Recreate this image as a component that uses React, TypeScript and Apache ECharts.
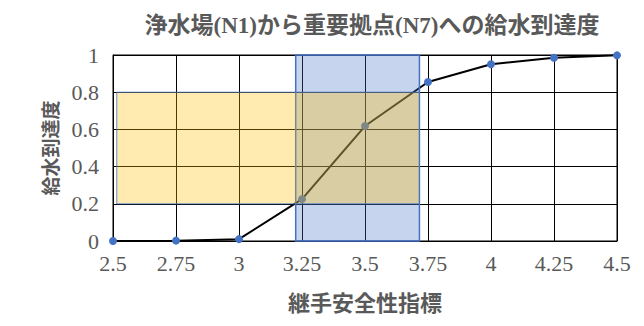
import React, { useEffect, useRef } from "react";
import * as echarts from "echarts";

const titleText = "浄水場(N1)から重要拠点(N7)への給水到達度";
const xName = "継手安全性指標";
const yName = "給水到達度";
const xValues = [2.5, 2.75, 3, 3.25, 3.5, 3.75, 4, 4.25, 4.5];
const reach = [0, 0.002, 0.01, 0.225, 0.618, 0.855, 0.95, 0.985, 0.998];
// rectangles: [xStart, xEnd, yStart, yEnd]
const blueBox = [3.225, 3.716, 0, 1];
const yellowBox = [2.515, 3.716, 0.2, 0.8];

const serif = "'Liberation Serif', 'Noto Sans CJK JP', serif";

function rectSeries(box: number[], fill: string, stroke: string, lw: number, z: number) {
  return {
    type: "custom",
    z,
    silent: true,
    data: [box],
    encode: { x: [0, 1], y: [2, 3] },
    renderItem: (params: any, api: any) => {
      const p0 = api.coord([api.value(0), api.value(3)]);
      const p1 = api.coord([api.value(1), api.value(2)]);
      return {
        type: "rect",
        shape: { x: p0[0], y: p0[1], width: p1[0] - p0[0], height: p1[1] - p0[1] },
        style: { fill, stroke, lineWidth: lw },
      };
    },
  };
}

export default function App() {
  const ref = useRef<HTMLDivElement>(null);
  useEffect(() => {
    document.body.style.margin = "0";
    const chart = echarts.init(ref.current!, undefined, { renderer: "svg" });
    chart.setOption({
      animation: false,
      backgroundColor: "#fff",
      title: {
        text: titleText,
        left: 367,
        textAlign: "center",
        top: 9,
        textStyle: { fontFamily: serif, fontSize: 23, fontWeight: "bold", color: "#595959" },
      },
      grid: { left: 113, right: 27, top: 55, bottom: 85, show: true, borderColor: "#000", borderWidth: 1 },
      xAxis: {
        type: "value",
        min: 2.5,
        max: 4.5,
        interval: 0.25,
        name: xName,
        nameLocation: "middle",
        nameGap: 51,
        nameTextStyle: { fontFamily: serif, fontSize: 22, fontWeight: "bold", color: "#595959" },
        axisLine: { show: true, lineStyle: { color: "#000", width: 1 } },
        axisTick: { show: false },
        axisLabel: { fontFamily: serif, fontSize: 22, color: "#595959", margin: 11 },
        splitLine: { show: true, lineStyle: { color: "#000", width: 1 } },
      },
      yAxis: {
        type: "value",
        min: 0,
        max: 1,
        interval: 0.2,
        name: yName,
        nameLocation: "middle",
        nameGap: 51,
        nameTextStyle: { fontFamily: serif, fontSize: 19, fontWeight: "bold", color: "#595959" },
        axisLine: { show: true, lineStyle: { color: "#000", width: 1 } },
        axisTick: { show: false },
        axisLabel: { fontFamily: serif, fontSize: 22, color: "#595959", margin: 14 },
        splitLine: { show: true, lineStyle: { color: "#000", width: 1 } },
      },
      series: [
        {
          type: "line",
          z: 2,
          data: xValues.map((x, i) => [x, reach[i]]),
          symbol: "circle",
          symbolSize: 8,
          lineStyle: { color: "#000", width: 2 },
          itemStyle: { color: "#4472C4" },
        },
        rectSeries(blueBox, "rgba(68,114,196,0.3)", "#4472C4", 1.5, 3),
        rectSeries(yellowBox, "rgba(255,192,0,0.31)", "rgba(68,114,196,0.8)", 1, 4),
      ],
    });
    return () => chart.dispose();
  }, []);
  return <div ref={ref} style={{ width: 644, height: 326 }} />;
}
